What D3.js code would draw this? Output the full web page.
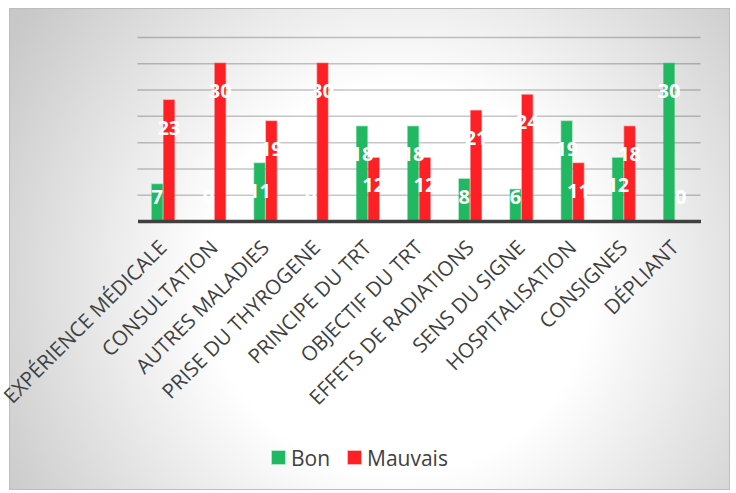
<!DOCTYPE html>
<html><head><meta charset="utf-8">
<script src="https://cdn.jsdelivr.net/npm/d3@7/dist/d3.min.js"></script>
<style>html,body{margin:0;padding:0;background:#fff;}svg{display:block;}</style>
</head><body>
<script>
const categories = ["EXPÉRIENCE MÉDICALE","CONSULTATION","AUTRES MALADIES","PRISE DU THYROGENE","PRINCIPE DU TRT","OBJECTIF DU TRT","EFFETS DE RADIATIONS","SENS DU SIGNE","HOSPITALISATION","CONSIGNES","DÉPLIANT"];
const seriesNames = ["Bon","Mauvais"];
const bon = [7,0,11,0,18,18,8,6,19,12,30];
const mauvais = [23,30,19,30,12,12,21,24,11,18,0];
const yTicks = [5,10,15,20,25,30,35];
const colors = ["#21b862","#fe2024"];

const W = 736, H = 493;
const svg = d3.select("body").append("svg").attr("width", W).attr("height", H);
const defs = svg.append("defs");
const grad = defs.append("radialGradient").attr("id","bg").attr("gradientUnits","userSpaceOnUse")
  .attr("cx",400).attr("cy",280).attr("r",460);
grad.append("stop").attr("offset",0).attr("stop-color","#ffffff");
grad.append("stop").attr("offset",0.42).attr("stop-color","#ffffff");
grad.append("stop").attr("offset",1).attr("stop-color","#c8c8c8");

svg.append("rect").attr("x",9.5).attr("y",8.5).attr("width",720).attr("height",481)
  .attr("fill","url(#bg)").attr("stroke","#bdbdbd").attr("stroke-width",1);

const x0 = d3.scaleBand().domain(categories).range([137.5,700.5]).padding(0);
const groupW = 23.6;
const x1 = d3.scaleBand().domain(seriesNames).range([0,groupW]).padding(0);
const y = d3.scaleLinear().domain([0,35]).range([221,37]);

// gridlines
const grid = svg.append("g").attr("transform","translate(137.5,0)")
  .call(d3.axisLeft(y).tickValues(yTicks).tickSize(-(700.5-137.5)).tickFormat(""));
grid.select(".domain").remove();
grid.selectAll(".tick line").attr("stroke","#000").attr("stroke-opacity",0.22).attr("stroke-width",1.5);

const data = categories.map((c,i)=>({cat:c, vals:[bon[i], mauvais[i]]}));
const off = (x0.bandwidth()-groupW)/2;

const groups = svg.append("g").selectAll("g").data(data).join("g")
  .attr("transform", d=>`translate(${x0(d.cat)+off},0)`);
groups.selectAll("rect").data(d=>d.vals.map((v,k)=>({v, s:seriesNames[k], k})))
  .join("rect")
  .attr("x", d=>x1(d.s)+0.6).attr("width", x1.bandwidth()-1.2)
  .attr("y", d=>y(d.v)).attr("height", d=>y(0)-y(d.v))
  .attr("fill", d=>colors[d.k]).attr("stroke", d=>colors[d.k]).attr("stroke-opacity",0.45).attr("stroke-width",1.4);

// x axis line
svg.append("g").attr("transform",`translate(0,${y(0)})`)
  .call(d3.axisBottom(x0).tickSize(0).tickFormat(""))
  .call(g=>g.select(".domain").attr("stroke","#404040").attr("stroke-width",3.5));

// data labels
const labels = svg.append("g");
seriesNames.forEach((s,k)=>{
  labels.selectAll(null).data(data).join("text")
    .attr("x", d=>x0(d.cat)+off+x1(s)+x1.bandwidth()/2)
    .attr("y", d=>Math.min(y(d.vals[k])+27.5, y(0)-24.5))
    .attr("dy","0.35em")
    .attr("text-anchor","middle")
    .attr("font-family","'Open Sans'").attr("font-weight","bold").attr("font-size",20)
    .attr("fill","#fff")
    .text(d=>d.vals[k]);
});

// x labels
svg.append("g").selectAll("text").data(categories).join("text")
  .attr("transform", d=>`translate(${x0(d)+x0.bandwidth()/2+5},249) rotate(-45)`)
  .attr("text-anchor","end")
  .attr("font-family","'Open Sans'").attr("font-size",20.5).attr("fill","#404040")
  .text(d=>d);

// legend
const leg = svg.append("g");
const legX = [272, 348];
seriesNames.forEach((s,k)=>{
  leg.append("rect").attr("x",legX[k]).attr("y",451).attr("width",13).attr("height",13)
    .attr("fill",colors[k]).attr("stroke",colors[k]).attr("stroke-opacity",0.45).attr("stroke-width",1.4);
  leg.append("text").attr("x",legX[k]+19).attr("y",465.5)
    .attr("font-family","'Open Sans'").attr("font-size",21).attr("fill","#404040").text(s);
});
</script>
</body></html>
